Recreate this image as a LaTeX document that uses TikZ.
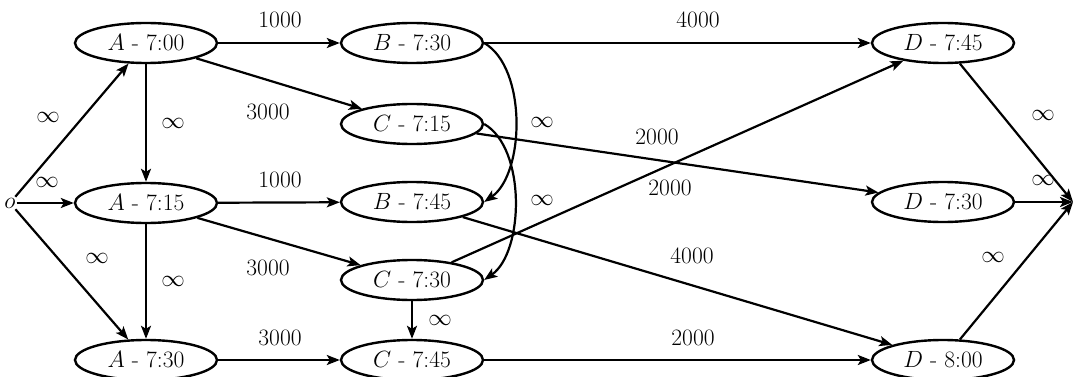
\RequirePackage{fix-cm}
\documentclass[tikz,border=0pt]{standalone}
\usetikzlibrary{shapes.geometric,arrows.meta}
\begin{document}
\begin{tikzpicture}[x=1pt,y=-1pt,
  every node/.style={font=\fontsize{23.5}{27}\selectfont},
  st/.style={ellipse,draw,line width=2.4pt,minimum width=142pt,minimum height=40pt,inner sep=0pt},
  ed/.style={line width=2.2pt,-{Stealth[length=13pt,width=10pt,inset=3pt]}},
  lb/.style={inner sep=0pt}]
\useasboundingbox (0,0) rectangle (1073,377);
\node[inner sep=1pt] (o) at (10,203) {$o$};
\coordinate (t) at (1073,202);
\node[st] (A1) at (146,43) {$A$ - 7:00};
\node[st] (A2) at (146,203) {$A$ - 7:15};
\node[st] (A3) at (146,360) {$A$ - 7:30};
\node[st] (B1) at (412,43) {$B$ - 7:30};
\node[st] (C1) at (412,124) {$C$ - 7:15};
\node[st] (B2) at (412,202) {$B$ - 7:45};
\node[st] (C2) at (412,280) {$C$ - 7:30};
\node[st] (C3) at (412,360) {$C$ - 7:45};
\node[st] (D1) at (943,43) {$D$ - 7:45};
\node[st] (D2) at (943,202) {$D$ - 7:30};
\node[st] (D3) at (943,360) {$D$ - 8:00};
\draw[ed] (o) -- (A1);
\draw[ed] (o) -- (A2);
\draw[ed] (o) -- (A3);
\draw[ed] (A1) -- (A2);
\draw[ed] (A2) -- (A3);
\draw[ed] (A1) -- (B1);
\draw[ed] (A1) -- (C1);
\draw[ed] (A2) -- (B2);
\draw[ed] (A2) -- (C2);
\draw[ed] (A3) -- (C3);
\draw[ed] (B1) -- (D1);
\draw[ed] (B1.east) to[out=-30,in=35,looseness=0.8] (B2.east);
\draw[ed] (C1.east) to[out=-30,in=35,looseness=0.8] (C2.east);
\draw[ed] (C1) -- (D2);
\draw[ed] (C2) -- (D1);
\draw[ed] (B2) -- (D3);
\draw[ed] (C2) -- (C3);
\draw[ed] (C3) -- (D3);
\draw[ed] (D1) -- (t);
\draw[ed] (D2) -- (t);
\draw[ed] (D3) -- (t);
\node[lb] (l1) at (280,20) {1000};
\node[lb] (l2) at (268,112) {3000};
\node[lb] (l3) at (280,180) {1000};
\node[lb] (l4) at (268,268) {3000};
\node[lb] (l5) at (280,338) {3000};
\node[lb] (l6) at (698,20) {4000};
\node[lb] (l7) at (657,137) {2000};
\node[lb] (l8) at (670,188) {2000};
\node[lb] (l9) at (692,256) {4000};
\node[lb] (l10) at (693,338) {2000};
\node[lb] (i1) at (48,117) {$\infty$};
\node[lb] (i2) at (47,182) {$\infty$};
\node[lb] (i3) at (97,258) {$\infty$};
\node[lb] (i4) at (173,123) {$\infty$};
\node[lb] (i5) at (173,281) {$\infty$};
\node[lb] (i6) at (542,122) {$\infty$};
\node[lb] (i7) at (542,200) {$\infty$};
\node[lb] (i8) at (440,320) {$\infty$};
\node[lb] (i9) at (1043,115) {$\infty$};
\node[lb] (i10) at (1043,180) {$\infty$};
\node[lb] (i11) at (993,257) {$\infty$};
\end{tikzpicture}
\end{document}
